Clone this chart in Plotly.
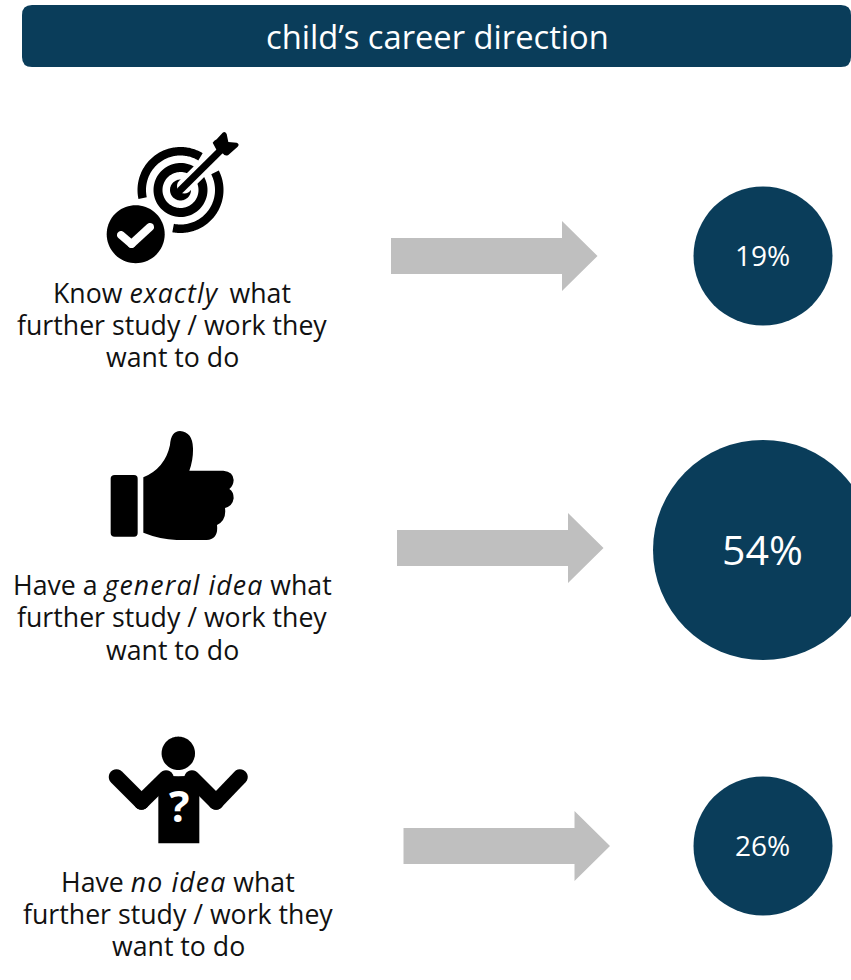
import re
import numpy as np
import plotly.graph_objects as go

# Survey results: share of parents per career-direction answer
title = "child’s career direction"
values = [19, 54, 26]
ITALIC = '<span style="letter-spacing:1.1px"><i>{}</i></span>'
answer_lines = [
    ["Know " + ITALIC.format("exactly") + " \u2009what", "further study / work they", "want to do"],
    ["Have a " + ITALIC.format("general idea") + " what", "further study / work they", "want to do"],
    ["Have " + ITALIC.format("no idea") + " what", "further study / work they", "want to do"],
]

# Layout constants (canvas pixels)
W, H = 851, 980
NAVY = "#0A3D5A"
GREY = "#BFBFBF"
FONT = "Open Sans"
bubble_x = [763, 763, 763]
bubble_y = [256, 550, 846]
bubble_size = [139, 220, 139]
bubble_font = [28, 41, 28]
label_x = [172, 172, 178]
label_y = [[292, 324, 356], [584, 616, 649], [881, 913, 945]]
arrow_x = [391, 397, 403.5]


def circle(cx, cy, r):
    t = np.linspace(0, 2 * np.pi, 73)[:-1]
    pts = [(cx + r * np.cos(a), cy + r * np.sin(a)) for a in t]
    return "M" + "L".join(f"{x:.2f},{y:.2f}" for x, y in pts) + "Z"


def capsule(p0, p1, w):
    """Thick line segment with round ends, as a closed path."""
    (x0, y0), (x1, y1) = p0, p1
    base = np.arctan2(y1 - y0, x1 - x0)
    pts = []
    for cx, cy, start in ((x1, y1, base - np.pi / 2), (x0, y0, base + np.pi / 2)):
        for a in np.linspace(start, start + np.pi, 13):
            pts.append((cx + w / 2 * np.cos(a), cy + w / 2 * np.sin(a)))
    return "M" + "L".join(f"{x:.2f},{y:.2f}" for x, y in pts) + "Z"


def arc_band(cx, cy, r_in, r_out, deg0, deg1):
    """Ring segment between two angles (degrees, clockwise from +x on screen)."""
    a = np.radians(np.linspace(deg0, deg1, 90))
    outer = [(cx + r_out * np.cos(t), cy + r_out * np.sin(t)) for t in a]
    inner = [(cx + r_in * np.cos(t), cy + r_in * np.sin(t)) for t in a[::-1]]
    return "M" + "L".join(f"{x:.2f},{y:.2f}" for x, y in outer + inner) + "Z"


def place(path, ox, oy, k=1 / 3):
    """Map a path drawn on a 3x local grid to canvas pixels."""
    def conv(m):
        return f"{ox + float(m.group(1)) * k:.2f},{oy + float(m.group(2)) * k:.2f}"
    return re.sub(r"(-?[\d.]+),(-?[\d.]+)", conv, path)


def solid(path, color="black"):
    return dict(type="path", path=path, fillcolor=color, line=dict(width=0),
                xref="x", yref="y", layer="above")


shapes = []

# Header bar, running off the right edge with rounded corners
shapes.append(dict(
    type="path", xref="x", yref="y", layer="below", fillcolor=NAVY, line=dict(width=0),
    path="M32,5 L841,5 Q851,5 851,15 L851,57 Q851,67 841,67 L32,67 Q22,67 22,57 L22,15 Q22,5 32,5 Z",
))

# Block arrows between each answer and its bubble
for ax, ay in zip(arrow_x, bubble_y):
    ay = ay - (0 if ay != 550 else 2)
    d = (f"M{ax},{ay - 18} L{ax + 171},{ay - 18} L{ax + 171},{ay - 35} "
         f"L{ax + 206.5},{ay} L{ax + 171},{ay + 35} L{ax + 171},{ay + 18} L{ax},{ay + 18} Z")
    shapes.append(dict(type="path", path=d, fillcolor=GREY, line=dict(width=0),
                       xref="x", yref="y", layer="below"))

# Target icon: rings, dart, and the tick badge
tx, ty = 180.5, 190
shapes += [
    solid(arc_band(tx, ty, 34.5, 43, -27, 101)),
    solid(arc_band(tx, ty, 34.5, 43, 168, 301)),
    solid(arc_band(tx, ty, 18, 27, 0, 360)),
    solid(circle(tx, ty, 10.5)),
    solid(capsule((tx + 4, ty - 4), (221, 150), 15), "white"),
    solid(capsule((tx, ty), (224, 147), 7)),
    solid(place("M368,68 Q372,62 380,58 L398,38 Q405,32 410,42 L415,66 L440,68 Q450,72 443,80 "
                "L415,105 Q405,110 398,100 L385,100 Z", 90, 120)),
    solid(circle(135.7, 234.2, 29)),
    solid(capsule((121, 235), (131.5, 244), 8), "white"),
    solid(capsule((131.5, 244), (150, 227), 8), "white"),
]

# Thumbs-up icon
shapes += [
    solid(place("M74,165 L132,165 Q143,165 143,176 L143,339 Q143,350 132,350 L74,350 "
                "Q62,350 62,339 L62,176 Q62,165 74,165 Z", 90, 420)),
    solid(place("M160,172 Q225,145 240,75 Q243,33 270,33 Q308,36 309,85 Q310,120 298,152 "
                "L400,152 Q430,155 431,180 Q430,198 418,207 Q431,215 431,235 Q428,258 405,264 "
                "Q410,300 381,315 Q386,358 350,360 L260,360 Q210,358 160,338 Z", 90, 420)),
]

# Shrugging figure icon
shapes += [
    solid(circle(178.3, 753.3, 16.7)),
    solid(capsule((116.5, 777), (141.5, 802), 15.5)),
    solid(capsule((141.5, 802), (166, 778), 15.5)),
    solid(capsule((240, 777), (216, 802), 15.5)),
    solid(capsule((216, 802), (192, 778), 15.5)),
    solid(place("M205,355 L205,175 L212,150 Q265,158 315,150 L328,175 L328,355 Z", 90, 725)),
]

fig = go.Figure()

# Result bubbles
fig.add_trace(go.Scatter(
    x=bubble_x, y=bubble_y, mode="markers", hoverinfo="skip", showlegend=False,
    marker=dict(size=bubble_size, color=NAVY, line=dict(width=0), opacity=1),
    cliponaxis=True,
))

annotations = [dict(x=437.5, y=36, text=title, showarrow=False,
                    font=dict(family=FONT, size=32.7, color="white"))]
for v, bx, by, fs in zip(values, bubble_x, bubble_y, bubble_font):
    annotations.append(dict(x=bx - 1, y=by - 1, text=f"{v}%", showarrow=False,
                            font=dict(family=FONT, size=fs, color="white")))
for lines, lx, ys in zip(answer_lines, label_x, label_y):
    for line, ly in zip(lines, ys):
        annotations.append(dict(x=lx, y=ly, text=line, showarrow=False,
                                font=dict(family=FONT, size=26.7, color="#111111")))
annotations.append(dict(x=179, y=805, text="<b>?</b>", showarrow=False,
                        font=dict(family=FONT, size=43, color="white")))
for a in annotations:
    a.update(xref="x", yref="y", xanchor="center", yanchor="middle")

fig.update_layout(
    width=W, height=H, margin=dict(l=0, r=0, t=0, b=0),
    paper_bgcolor="white", plot_bgcolor="white", showlegend=False,
    xaxis=dict(range=[0, W], visible=False, fixedrange=True),
    yaxis=dict(range=[H, 0], visible=False, fixedrange=True),
    shapes=shapes, annotations=annotations,
)

fig.write_html("out.html", config=dict(displayModeBar=False))
